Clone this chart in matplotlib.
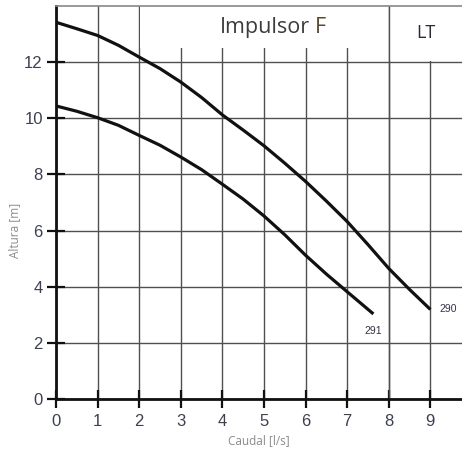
import matplotlib
matplotlib.use("Agg")
import matplotlib.pyplot as plt
from matplotlib.patches import Rectangle

# Data
q_290 = [0, 0.5, 1, 1.5, 2, 2.5, 3, 3.5, 4, 4.5, 5, 5.5, 6, 6.5, 7, 7.5, 8, 8.5, 9]
h_290 = [13.42, 13.19, 12.95, 12.6, 12.18, 11.77, 11.29, 10.74, 10.12, 9.58,
         9.02, 8.4, 7.75, 7.05, 6.32, 5.5, 4.65, 3.9, 3.19]
q_291 = [0, 0.5, 1, 1.5, 2, 2.5, 3, 3.5, 4, 4.5, 5, 5.5, 6, 6.5, 7, 7.63]
h_291 = [10.44, 10.25, 10.02, 9.75, 9.39, 9.04, 8.62, 8.17, 7.65, 7.12,
         6.52, 5.85, 5.12, 4.45, 3.82, 3.03]
x_ticks = [0, 1, 2, 3, 4, 5, 6, 7, 8, 9]
y_ticks = [0, 2, 4, 6, 8, 10, 12]
curve_labels = ["290", "291"]

fig = plt.figure(figsize=(4.62, 4.57), dpi=100)
ax = fig.add_axes([56/462, 58/457, 1 - 56/462, (399-6)/457])
ax.set_xlim(0, 9.76)
ax.set_ylim(0, 14)

ax.set_xticks(x_ticks)
ax.set_yticks(y_ticks)
ax.grid(True, color="#505050", linewidth=1.0, zorder=1)

# header boxes
ax.add_patch(Rectangle((2.03, 12.5), 5.94, 1.6, facecolor="white", edgecolor="none", zorder=2))
ax.add_patch(Rectangle((8.03, 12.04), 1.8, 2.0, facecolor="white", edgecolor="none", zorder=2))
ax.axvline(8, color="#505050", linewidth=1.0, zorder=2.1)

ax.plot(q_290, h_290, color="#111111", linewidth=2.3, zorder=3, solid_capstyle="butt")
ax.plot(q_291, h_291, color="#111111", linewidth=2.3, zorder=3, solid_capstyle="butt")

ax.text(q_290[-1] + 0.22, h_290[-1], curve_labels[0], fontsize=7.5, color="#333344",
        family="Liberation Sans", ha="left", va="center")
ax.text(q_291[-1], h_291[-1] - 0.6, curve_labels[1], fontsize=7.5, color="#333344",
        family="Liberation Sans", ha="center", va="center")

ax.text(6.1, 13.24, "Impulsor", fontsize=15.5, color="#3c3c3c", family="Open Sans",
        ha="right", va="center", zorder=4)
ax.text(6.22, 13.24, "F", fontsize=15.5, color="#5a4630", family="Open Sans",
        ha="left", va="center", zorder=4)
ax.text(8.88, 13.04, "LT", fontsize=13, color="#2a2a35", family="Open Sans",
        ha="center", va="center", zorder=4)

for s in ["left", "bottom"]:
    ax.spines[s].set_linewidth(2.0)
    ax.spines[s].set_color("#111111")
ax.spines["right"].set_visible(False)
ax.spines["top"].set_color("#888888")
ax.spines["top"].set_linewidth(1.2)

ax.tick_params(axis="both", direction="inout", length=13, width=1.6, color="#111111",
               labelsize=12, labelcolor="#3d4050")
ax.tick_params(axis="x", pad=4)
ax.tick_params(axis="y", pad=3)
for lab in ax.get_xticklabels() + ax.get_yticklabels():
    lab.set_family("Liberation Sans")

ax.set_xlabel("Caudal [l/s]", fontsize=8.5, color="#8a8a8a", family="Open Sans", labelpad=4)
ax.set_ylabel("Altura [m]", fontsize=8.5, color="#8a8a8a", family="Open Sans")
ax.yaxis.set_label_coords(-0.085, 6.0/14)

fig.savefig("out.png", dpi=100)
